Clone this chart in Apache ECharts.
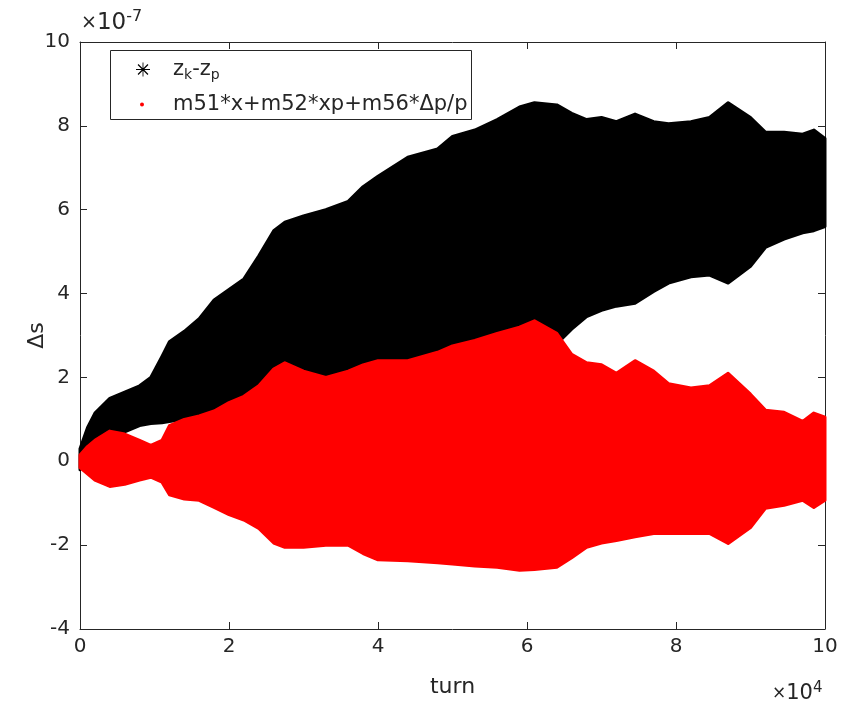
<!DOCTYPE html>
<html>
<head>
<meta charset="utf-8">
<script src="https://cdn.jsdelivr.net/npm/echarts@6/dist/echarts.min.js"></script>
<style>
  html, body { margin: 0; padding: 0; background: #fff; }
  #chart { width: 848px; height: 708px; }
</style>
</head>
<body>
<div id="chart"></div>
<script>
// turn number, in units of 10^4 turns
const turns = [0, 0.1, 0.2, 0.4, 0.6, 0.8, 0.95, 1.1, 1.2, 1.4, 1.6, 1.8, 2.0, 2.2, 2.4, 2.6, 2.75,
  3.0, 3.3, 3.6, 3.8, 4.0, 4.4, 4.8, 5.0, 5.3, 5.6, 5.9, 6.1, 6.4, 6.6, 6.8, 7.0, 7.2, 7.45,
  7.7, 7.9, 8.2, 8.45, 8.7, 9.0, 9.2, 9.45, 9.7, 9.85, 10.0];

// envelope of z_k - z_p, in units of 10^-7
const zkzpUpper = [0.3, 0.8, 1.15, 1.5, 1.65, 1.8, 2.0, 2.5, 2.85, 3.1, 3.4, 3.85, 4.1, 4.35, 4.9, 5.5, 5.7,
  5.85, 6.0, 6.2, 6.55, 6.8, 7.25, 7.45, 7.75, 7.9, 8.15, 8.45, 8.55, 8.5, 8.3, 8.15, 8.2, 8.1, 8.28,
  8.1, 8.05, 8.1, 8.2, 8.55, 8.2, 7.85, 7.85, 7.8, 7.9, 7.7];
const zkzpLower = [-0.2, 0.05, 0.2, 0.45, 0.7, 0.85, 0.9, 0.92, 0.95, 1.0, 1.1, 1.2, 1.3, 1.4, 1.5, 1.55, 1.6,
  1.65, 1.75, 1.85, 1.9, 1.95, 2.05, 2.15, 2.2, 2.3, 2.4, 2.5, 2.6, 2.8, 3.15, 3.45, 3.6, 3.7, 3.77,
  4.05, 4.25, 4.4, 4.44, 4.25, 4.65, 5.1, 5.3, 5.45, 5.5, 5.6];

// envelope of m51*x + m52*xp + m56*dp/p, in units of 10^-7
const linUpper = [0.15, 0.35, 0.5, 0.72, 0.65, 0.5, 0.38, 0.5, 0.85, 1.0, 1.08, 1.2, 1.4, 1.55, 1.8, 2.2, 2.35,
  2.15, 2.0, 2.15, 2.3, 2.4, 2.4, 2.6, 2.75, 2.88, 3.05, 3.2, 3.35, 3.05, 2.55, 2.35, 2.3, 2.1, 2.4,
  2.15, 1.85, 1.75, 1.8, 2.1, 1.6, 1.22, 1.17, 0.95, 1.15, 1.05];
const linLower = [-0.15, -0.3, -0.45, -0.6, -0.55, -0.45, -0.38, -0.5, -0.8, -0.9, -0.93, -1.1, -1.27, -1.4, -1.6, -1.95, -2.05,
  -2.05, -2.0, -2.0, -2.2, -2.35, -2.37, -2.42, -2.45, -2.5, -2.53, -2.6, -2.58, -2.53, -2.3, -2.05, -1.95, -1.89, -1.8,
  -1.72, -1.72, -1.72, -1.72, -1.96, -1.58, -1.12, -1.05, -0.93, -1.1, -0.93];

const xTicks = [0, 2, 4, 6, 8, 10];
const yTicks = [-4, -2, 0, 2, 4, 6, 8, 10];

const seriesNames = ['z_k-z_p', 'm51*x+m52*xp+m56*Δp/p'];

const FONT = 'DejaVu Sans';
const INK = '#262626';

// filled band between a lower and an upper envelope
function bandSeries(name, lower, upper, color) {
  return {
    type: 'custom',
    name: name,
    coordinateSystem: 'cartesian2d',
    itemStyle: { color: color },
    clip: false,
    silent: true,
    data: turns.map((t, i) => [t, lower[i], upper[i]]),
    encode: { x: 0, y: [1, 2] },
    renderItem: function (params, api) {
      if (params.dataIndexInside !== 0) return null;
      const n = turns.length;
      const top = [], bottom = [];
      for (let i = 0; i < n; i++) {
        top.push(api.coord([api.value(0, i), api.value(2, i)]));
        bottom.push(api.coord([api.value(0, i), api.value(1, i)]));
      }
      return {
        type: 'polygon',
        shape: { points: top.concat(bottom.reverse()) },
        style: { fill: color, stroke: color, lineWidth: 3, lineJoin: 'round' }
      };
    }
  };
}

const asterisk = 'path://M0,9.4L20,9.4L20,10.6L0,10.6Z M9.4,0L10.6,0L10.6,20L9.4,20Z ' +
  'M2.3,3.5L3.5,2.3L17.7,16.5L16.5,17.7Z M16.5,2.3L17.7,3.5L3.5,17.7L2.3,16.5Z';

const axisCommon = {
  type: 'value',
  axisLine: { show: true, onZero: false, lineStyle: { color: INK, width: 1 } },
  axisTick: { show: true, inside: true, length: 7, lineStyle: { color: INK, width: 1 } },
  splitLine: { show: false }
};

const chart = echarts.init(document.getElementById('chart'), null, { renderer: 'canvas' });

chart.setOption({
  animation: false,
  backgroundColor: '#ffffff',
  grid: { left: 80, right: 23, top: 42, bottom: 79, containLabel: false },
  xAxis: [
    Object.assign({}, axisCommon, {
      position: 'bottom',
      min: xTicks[0], max: xTicks[xTicks.length - 1], interval: xTicks[1] - xTicks[0],
      axisLabel: { color: INK, fontFamily: FONT, fontSize: 20, margin: 8 },
      name: 'turn', nameLocation: 'middle', nameGap: 47, nameMoveOverlap: false,
      nameTextStyle: { color: INK, fontFamily: FONT, fontSize: 22 }
    }),
    Object.assign({}, axisCommon, {
      position: 'top',
      min: xTicks[0], max: xTicks[xTicks.length - 1], interval: xTicks[1] - xTicks[0],
      axisLabel: { show: false }
    })
  ],
  yAxis: [
    Object.assign({}, axisCommon, {
      position: 'left',
      min: yTicks[0], max: yTicks[yTicks.length - 1], interval: yTicks[1] - yTicks[0],
      axisLabel: { color: INK, fontFamily: FONT, fontSize: 20, margin: 10 },
      name: 'Δs', nameLocation: 'middle', nameGap: 32, nameRotate: 90, nameMoveOverlap: false,
      nameTextStyle: { color: INK, fontFamily: FONT, fontSize: 22 }
    }),
    Object.assign({}, axisCommon, {
      position: 'right',
      min: yTicks[0], max: yTicks[yTicks.length - 1], interval: yTicks[1] - yTicks[0],
      axisLabel: { show: false }
    })
  ],
  legend: [
    {
      left: 136, top: 59, orient: 'vertical', padding: 0,
      itemWidth: 14, itemHeight: 14, selectedMode: false,
      data: [{ name: seriesNames[0], icon: asterisk }],
      formatter: function () { return '{a|z}{b|k}{a|-z}{b|p}'; },
      textStyle: {
        color: INK, fontFamily: FONT, padding: [0, 0, 0, 18],
        rich: {
          a: { fontSize: 21, fontFamily: FONT, color: INK },
          b: { fontSize: 14, fontFamily: FONT, color: INK, padding: [11, 0, 0, 0] }
        }
      }
    },
    {
      left: 140, top: 94, orient: 'vertical', padding: 0,
      itemWidth: 4, itemHeight: 4, selectedMode: false,
      data: [{ name: seriesNames[1], icon: 'circle' }],
      textStyle: { color: INK, fontFamily: FONT, fontSize: 21, padding: [0, 0, 0, 24] }
    }
  ],
  graphic: [
    {
      type: 'rect', left: 110, top: 50, z: 3,
      shape: { width: 361, height: 69 },
      style: { fill: '#ffffff', stroke: INK, lineWidth: 1 }
    },
    {
      type: 'text', left: 81, top: 9, z: 5,
      style: {
        text: '{m|×}{t|10}{e|-7}',
        rich: {
          m: { fontSize: 19, fontFamily: FONT, fill: INK },
          t: { fontSize: 23, fontFamily: FONT, fill: INK },
          e: { fontSize: 16, fontFamily: FONT, fill: INK, padding: [0, 0, 12, 0] }
        }
      }
    },
    {
      type: 'text', left: 772, top: 681, z: 5,
      style: {
        text: '{m|×}{t|10}{e|4}',
        rich: {
          m: { fontSize: 17, fontFamily: FONT, fill: INK },
          t: { fontSize: 21, fontFamily: FONT, fill: INK },
          e: { fontSize: 15, fontFamily: FONT, fill: INK, padding: [0, 0, 11, 0] }
        }
      }
    }
  ],
  series: [
    bandSeries(seriesNames[0], zkzpLower, zkzpUpper, '#000000'),
    bandSeries(seriesNames[1], linLower, linUpper, '#ff0000')
  ]
});
</script>
</body>
</html>
